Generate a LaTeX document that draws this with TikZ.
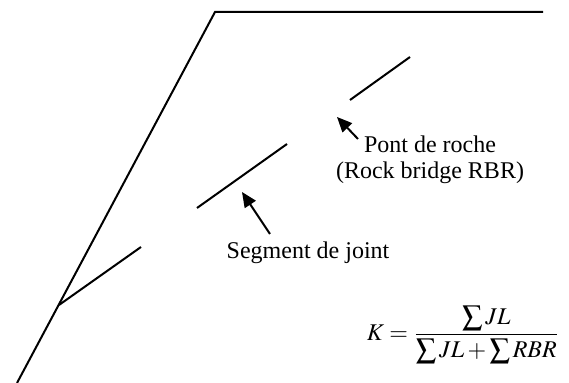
\documentclass[tikz,border=0pt]{standalone}
\usepackage{amsmath}
\usepackage{mathptmx}
\usepackage{graphicx}
\usepackage{fontspec}
\setmainfont{Liberation Serif}
\usetikzlibrary{arrows.meta}
\newcommand{\Sm}{\mathop{\vcenter{\hbox{\scalebox{1.2}{$\textstyle\sum$}}}}\nolimits}
\tikzset{
    joint/.style={line width=1pt},
    pointer/.style={line width=1pt, -{Triangle[length=7.5pt,width=6.5pt]}},
    label/.style={font=\fontsize{12}{13}\selectfont, align=center, inner sep=0pt}
}
\begin{document}
\begin{tikzpicture}[x=0.5pt, y=-0.5pt]
    \useasboundingbox (0,0) rectangle (569,383);
    \coordinate (T) at (215, 12);
    \coordinate (E) at (543, 12);
    \coordinate (F) at (17, 383);
    \coordinate (J) at (59, 305);
    \coordinate (B) at (141, 247);
    \coordinate (S1) at (197, 208);
    \coordinate (S2) at (287, 144);
    \coordinate (R1) at (350, 100);
    \coordinate (R2) at (410, 57);
    \coordinate (P) at (337, 117);
    \coordinate (G) at (242, 192);
    \draw[joint] (F) -- (T) -- (E);
    \draw[joint] (J) -- (B);
    \draw[joint] (S1) -- (S2);
    \draw[joint] (R1) -- (R2);
    \node[label] (pont) at (430, 160) {Pont de roche\\(Rock bridge RBR)};
    \node[label] (seg) at (308, 253) {Segment de joint};
    \coordinate (pt) at (358, 139);
    \coordinate (st) at (270, 234);
    \draw[pointer] (pt) -- (P);
    \draw[pointer] (st) -- (G);
    \node[label] (K) at (463, 335) {$K=\dfrac{\Sm JL}{\Sm JL+\Sm RBR}$};
\end{tikzpicture}
\end{document}
